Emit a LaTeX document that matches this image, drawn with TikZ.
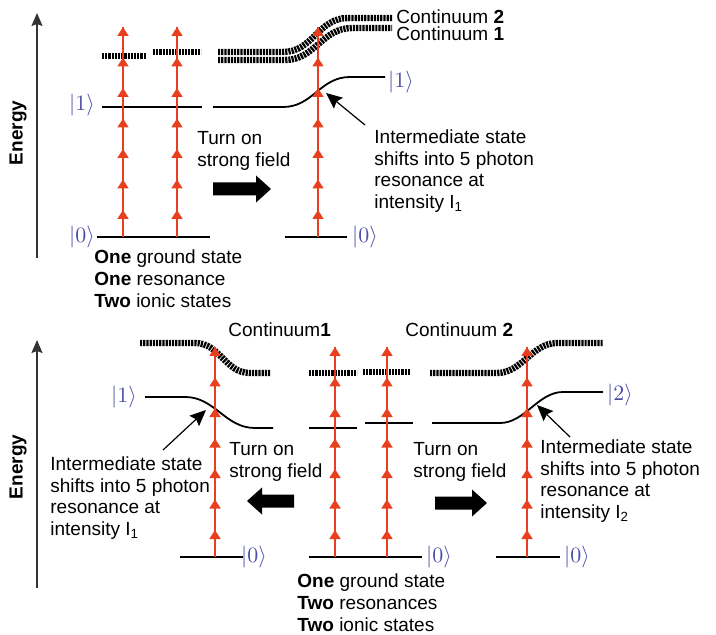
\documentclass[tikz,border=0pt]{standalone}
\usepackage{fontspec}
\setmainfont{Liberation Sans}
\usetikzlibrary{arrows.meta}
\definecolor{photonred}{HTML}{E8401E}
\definecolor{ketblue}{HTML}{4B4BA8}
\definecolor{axisgray}{HTML}{333333}

\begin{document}
\begin{tikzpicture}[x=0.5pt,y=-0.5pt,
  font=\fontsize{9.5}{10.9}\selectfont,
  level/.style={draw=black, line width=0.9pt},
  band/.style={draw=black, line width=3.2pt, dash pattern=on 1.1pt off 0.5pt},
  photon/.style={draw=photonred, line width=0.85pt},
  photontip/.style={photon, -{Triangle[length=4.5pt,width=5.5pt]}},
  energy/.style={draw=axisgray, line width=0.8pt, -{Stealth[length=6.5pt,width=5.5pt,inset=1pt]}},
  pointer/.style={line width=0.6pt, -{Stealth[length=8pt,width=7pt,inset=1.2pt]}},
  ket/.style={text=ketblue, font=\fontsize{10.5}{12}\selectfont, inner sep=0pt},
  note/.style={align=left, anchor=west, inner sep=0pt},
  pics/field/.style={code={
    \fill (0,-6.5) -- ({#1-15},-6.5) -- ({#1-15},-13.5) -- (#1,0)
      -- ({#1-15},13.5) -- ({#1-15},6.5) -- (0,6.5) -- cycle;}}]

\path[use as bounding box] (0,0) rectangle (716,635);

% ------------------------------------------------------------ top panel
\draw[energy] (37,258) -- (37,13);
\node[rotate=90, font=\fontsize{9.5}{11}\selectfont\bfseries] (energyA) at (18,133) {Energy};

\draw[level] (97,237) -- (210,237);
\draw[level] (285,237) -- (347,237);
\draw[level] (102,107) -- (202,107);
\draw[level] (213,107) -- (283,107) .. controls (313,107) and (320,77) .. (350,77) -- (385,77);

\draw[band] (102,56) -- (146,56);
\draw[band] (153,52) -- (201,52);
\draw[band] (218,52) -- (283,52) .. controls (313,52) and (318,18) .. (348,18) -- (392,18);
\draw[band] (218,60) -- (285,60) .. controls (315,60) and (322,28) .. (352,28) -- (392,28);

\node[ket] (oneA) at (82,105) {$|1\rangle$};
\node[ket] (zeroA) at (82,237) {$|0\rangle$};
\node[ket] (oneB) at (401,82) {$|1\rangle$};
\node[ket] (zeroB) at (365,237) {$|0\rangle$};

\node[note] (contTwo) at (396,17) {Continuum \textbf{2}};
\node[note] (contOne) at (396,34) {Continuum \textbf{1}};

\node[note] (turnA) at (197,151) {Turn on\\strong field};
\pic at (213,189) {field=58};

\node[note] (caseA) at (94,279) {\textbf{One} ground state\\\textbf{One} resonance\\\textbf{Two} ionic states};

\node[note] (shiftA) at (374,171)
  {Intermediate state\\shifts into 5 photon\\resonance at\\intensity I\textsubscript{1}};
\coordinate (crossA) at (326,93);
\coordinate (tailA) at (365,125);
\draw[pointer] (tailA) -- (crossA);

% --------------------------------------------------------- bottom panel
\draw[energy] (37,588) -- (37,340);
\node[rotate=90, font=\fontsize{9.5}{11}\selectfont\bfseries] (energyB) at (18,467) {Energy};

\node[note] (contOneB) at (228,330) {Continuum\textbf{1}};
\node[note] (contTwoB) at (405,330) {Continuum \textbf{2}};

\draw[level] (180,557) -- (243,557);
\draw[level] (309,557) -- (422,557);
\draw[level] (496,557) -- (560,557);
\draw[level] (145,397) -- (185,397) .. controls (215,397) and (225,428) .. (255,428) -- (273,428);
\draw[level] (309,428) -- (357,428);
\draw[level] (365,423) -- (413,423);
\draw[level] (432,423) -- (500,423) .. controls (525,423) and (538,392) .. (563,392) -- (603,392);

\draw[band] (140,343) -- (195,343) .. controls (220,343) and (225,373) .. (250,373) -- (270,373);
\draw[band] (309,373) -- (357,373);
\draw[band] (363,372) -- (410,372);
\draw[band] (430,373) -- (497,373) .. controls (522,373) and (532,343) .. (557,343) -- (603,343);

\node[ket] (oneC) at (124,397) {$|1\rangle$};
\node[ket] (twoC) at (620,395) {$|2\rangle$};
\node[ket] (zeroC) at (254,557) {$|0\rangle$};
\node[ket] (zeroD) at (439,557) {$|0\rangle$};
\node[ket] (zeroE) at (577,557) {$|0\rangle$};

\node[note] (turnB) at (229,462) {Turn on\\strong field};
\pic[xscale=-1] at (294,501) {field=47};
\node[note] (turnC) at (413,462) {Turn on\\strong field};
\pic at (435,503) {field=52};

\node[note] (caseB) at (297,603) {\textbf{One} ground state\\\textbf{Two} resonances\\\textbf{Two} ionic states};

\node[note] (shiftB) at (50,498)
  {Intermediate state\\shifts into 5 photon\\resonance at\\intensity I\textsubscript{1}};
\coordinate (crossB) at (206,410);
\coordinate (tailB) at (163,450);
\draw[pointer] (tailB) -- (crossB);

\node[note] (shiftC) at (540,481)
  {Intermediate state\\shifts into 5 photon\\resonance at\\intensity I\textsubscript{2}};
\coordinate (crossC) at (537,405);
\coordinate (tailC) at (570,437);
\draw[pointer] (tailC) -- (crossC);

% photons: five-photon ladders from the ground state
\foreach \x/\g in {123/237,177/237,318/237,215/557,335/557,387/557,527/557}{
  \draw[photon] (\x,\g) -- (\x,{\g-210});
  \foreach \k in {0,...,6}
    \draw[photontip] (\x,{\g-17-30.5*\k}) -- (\x,{\g-27-30.5*\k});
}
\end{tikzpicture}
\end{document}
